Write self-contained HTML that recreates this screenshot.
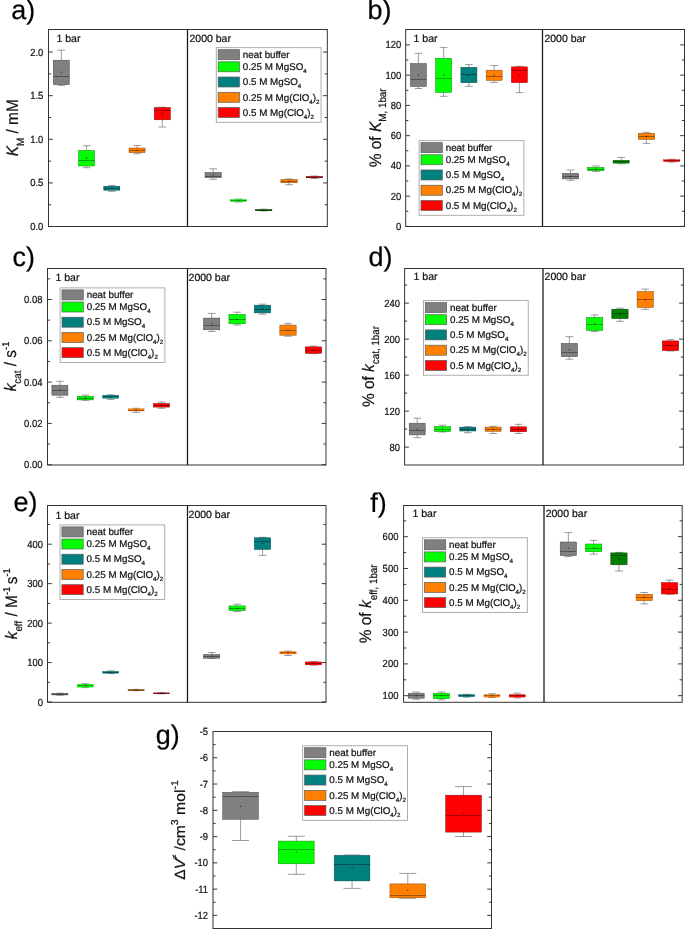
<!DOCTYPE html>
<html><head><meta charset="utf-8"><title>Figure</title>
<style>html,body{margin:0;padding:0;background:#fff}svg{display:block}text{stroke:#111;stroke-width:.22px}</style></head>
<body>
<svg width="685" height="929" viewBox="0 0 685 929" text-rendering="geometricPrecision">
<rect width="685" height="929" fill="#fff"/>
<g opacity="0.999">
<path d="M48.5 226.55h4.3M327.3 226.55h-4.3" stroke="#222" stroke-width="0.9"/>
<path d="M48.5 182.93h4.3M327.3 182.93h-4.3" stroke="#222" stroke-width="0.9"/>
<path d="M48.5 139.3h4.3M327.3 139.3h-4.3" stroke="#222" stroke-width="0.9"/>
<path d="M48.5 95.68h4.3M327.3 95.68h-4.3" stroke="#222" stroke-width="0.9"/>
<path d="M48.5 52.05h4.3M327.3 52.05h-4.3" stroke="#222" stroke-width="0.9"/>
<path d="M48.5 204.74h2.6M327.3 204.74h-2.6" stroke="#222" stroke-width="0.9"/>
<path d="M48.5 161.11h2.6M327.3 161.11h-2.6" stroke="#222" stroke-width="0.9"/>
<path d="M48.5 117.49h2.6M327.3 117.49h-2.6" stroke="#222" stroke-width="0.9"/>
<path d="M48.5 73.86h2.6M327.3 73.86h-2.6" stroke="#222" stroke-width="0.9"/>
<text transform="translate(43.3 230.1) scale(0.91 1)" text-anchor="end" font-family="Liberation Sans, Arial, sans-serif" font-size="10.4" fill="#111">0.0</text>
<text transform="translate(43.3 186.48) scale(0.91 1)" text-anchor="end" font-family="Liberation Sans, Arial, sans-serif" font-size="10.4" fill="#111">0.5</text>
<text transform="translate(43.3 142.85) scale(0.91 1)" text-anchor="end" font-family="Liberation Sans, Arial, sans-serif" font-size="10.4" fill="#111">1.0</text>
<text transform="translate(43.3 99.23) scale(0.91 1)" text-anchor="end" font-family="Liberation Sans, Arial, sans-serif" font-size="10.4" fill="#111">1.5</text>
<text transform="translate(43.3 55.6) scale(0.91 1)" text-anchor="end" font-family="Liberation Sans, Arial, sans-serif" font-size="10.4" fill="#111">2.0</text>
<path d="M61.3 50.2V60.2M61.3 84.6V85.4M57.46 50.2H65.14M57.46 85.4H65.14" stroke="#5a5a5a" stroke-width="0.6" fill="none"/>
<rect x="53.3" y="60.2" width="16" height="24.4" fill="#808080" stroke="#464646" stroke-width="0.5"/>
<path d="M53.3 76.5H69.3" stroke="#333333" stroke-width="0.6"/>
<rect x="60.8" y="71.6" width="1" height="1" fill="#111"/>
<path d="M86.55 145.8V150.5M86.55 166V167.7M82.71 145.8H90.39M82.71 167.7H90.39" stroke="#5a5a5a" stroke-width="0.6" fill="none"/>
<rect x="78.55" y="150.5" width="16" height="15.5" fill="#00ff00" stroke="#008c00" stroke-width="0.5"/>
<path d="M78.55 160.5H94.55" stroke="#006600" stroke-width="0.6"/>
<rect x="86.05" y="157.7" width="1" height="1" fill="#111"/>
<path d="M111.8 185.5V186.3M111.8 190.2V191.3M107.96 185.5H115.64M107.96 191.3H115.64" stroke="#5a5a5a" stroke-width="0.6" fill="none"/>
<rect x="103.8" y="186.3" width="16" height="3.9" fill="#008080" stroke="#004646" stroke-width="0.5"/>
<path d="M103.8 188.5H119.8" stroke="#003333" stroke-width="0.6"/>
<rect x="111.3" y="187.7" width="1" height="1" fill="#111"/>
<path d="M137.05 145.5V148M137.05 152.7V153.8M133.21 145.5H140.89M133.21 153.8H140.89" stroke="#5a5a5a" stroke-width="0.6" fill="none"/>
<rect x="129.05" y="148" width="16" height="4.7" fill="#ff8000" stroke="#8c4600" stroke-width="0.5"/>
<path d="M129.05 150.5H145.05" stroke="#663300" stroke-width="0.6"/>
<rect x="136.55" y="149.7" width="1" height="1" fill="#111"/>
<path d="M162.3 107.2V107.6M162.3 119.8V127M158.46 107.2H166.14M158.46 127H166.14" stroke="#5a5a5a" stroke-width="0.6" fill="none"/>
<rect x="154.3" y="107.6" width="16" height="12.2" fill="#ff0000" stroke="#8c0000" stroke-width="0.5"/>
<path d="M154.3 110.5H170.3" stroke="#660000" stroke-width="0.6"/>
<rect x="161.8" y="112.7" width="1" height="1" fill="#111"/>
<path d="M213.15 168.8V172.4M213.15 177.6V179.3M209.24 168.8H217.06M209.24 179.3H217.06" stroke="#5a5a5a" stroke-width="0.6" fill="none"/>
<rect x="205" y="172.4" width="16.3" height="5.2" fill="#808080" stroke="#464646" stroke-width="0.5"/>
<path d="M205 176.5H221.3" stroke="#333333" stroke-width="0.6"/>
<rect x="212.65" y="174.5" width="1" height="1" fill="#111"/>
<path d="M238.45 199V199.5M238.45 201.6V202M234.54 199H242.36M234.54 202H242.36" stroke="#5a5a5a" stroke-width="0.6" fill="none"/>
<rect x="230.3" y="199.5" width="16.3" height="2.1" fill="#00ff00" stroke="#00cc00" stroke-width="0.35"/>
<path d="M230.3 200.5H246.6" stroke="#006600" stroke-width="0.5"/>
<rect x="237.95" y="200" width="1" height="1" fill="#111"/>
<path d="M263.75 209.2V209.5M263.75 210.7V211M259.84 209.2H267.66M259.84 211H267.66" stroke="#5a5a5a" stroke-width="0.6" fill="none"/>
<rect x="255.6" y="209.5" width="16.3" height="1.2" fill="#008000" stroke="#002600" stroke-width="0.5"/>
<path d="M255.6 210.5H271.9" stroke="#003300" stroke-width="0.5"/>
<rect x="263.25" y="209.6" width="1" height="1" fill="#111"/>
<path d="M289.05 179V179.5M289.05 182.8V184.7M285.14 179H292.96M285.14 184.7H292.96" stroke="#5a5a5a" stroke-width="0.6" fill="none"/>
<rect x="280.9" y="179.5" width="16.3" height="3.3" fill="#ff8000" stroke="#8c4600" stroke-width="0.5"/>
<path d="M280.9 181.5H297.2" stroke="#663300" stroke-width="0.6"/>
<rect x="288.55" y="180.7" width="1" height="1" fill="#111"/>
<path d="M314.35 176V176.4M314.35 177.8V178.5M310.44 176H318.26M310.44 178.5H318.26" stroke="#5a5a5a" stroke-width="0.6" fill="none"/>
<rect x="306.2" y="176.4" width="16.3" height="1.4" fill="#ff0000" stroke="#4c0000" stroke-width="0.5"/>
<path d="M306.2 177.5H322.5" stroke="#660000" stroke-width="0.5"/>
<rect x="313.85" y="176.6" width="1" height="1" fill="#111"/>
<rect x="216.25" y="47.7" width="104.8" height="74.6" fill="#fff" stroke="#9a9a9a" stroke-width="0.8"/>
<rect x="218.15" y="49.7" width="21.3" height="10" fill="#808080" stroke="#5c5c5c" stroke-width="0.7"/>
<text x="242.85" y="57.9" font-family="Liberation Sans, Arial, sans-serif" font-size="9.8" fill="#111">neat buffer</text>
<rect x="218.15" y="61.8" width="21.3" height="10" fill="#00ff00" stroke="#5c5c5c" stroke-width="0.7"/>
<text x="242.85" y="70" font-family="Liberation Sans, Arial, sans-serif" font-size="9.8" fill="#111">0.25 M MgSO<tspan dy="3" font-size="6.2">4</tspan></text>
<rect x="218.15" y="77" width="21.3" height="10" fill="#008080" stroke="#5c5c5c" stroke-width="0.7"/>
<text x="242.85" y="85.2" font-family="Liberation Sans, Arial, sans-serif" font-size="9.8" fill="#111">0.5 M MgSO<tspan dy="3" font-size="6.2">4</tspan></text>
<rect x="218.15" y="92.3" width="21.3" height="10" fill="#ff8000" stroke="#5c5c5c" stroke-width="0.7"/>
<text x="242.85" y="100.5" font-family="Liberation Sans, Arial, sans-serif" font-size="9.8" fill="#111">0.25 M Mg(ClO<tspan dy="3" font-size="6.2">4</tspan><tspan dy="-3">)</tspan><tspan dy="3" font-size="6.2">2</tspan></text>
<rect x="218.15" y="107.5" width="21.3" height="10" fill="#ff0000" stroke="#5c5c5c" stroke-width="0.7"/>
<text x="242.85" y="115.7" font-family="Liberation Sans, Arial, sans-serif" font-size="9.8" fill="#111">0.5 M Mg(ClO<tspan dy="3" font-size="6.2">4</tspan><tspan dy="-3">)</tspan><tspan dy="3" font-size="6.2">2</tspan></text>
<rect x="48.5" y="29.5" width="278.8" height="197" fill="none" stroke="#333" stroke-width="1"/>
<path d="M187.5 29.5V226.5" stroke="#151515" stroke-width="1.25"/>
<text x="56.5" y="42.2" font-family="Liberation Sans, Arial, sans-serif" font-size="10.5" fill="#111">1 bar</text>
<text x="189.5" y="42.2" font-family="Liberation Sans, Arial, sans-serif" font-size="10.5" fill="#111">2000 bar</text>
<text x="11.2" y="18.7" font-family="Liberation Sans, Arial, sans-serif" font-size="27" fill="#000">a)</text>
<text transform="translate(18.2 127.8) rotate(-90) scale(0.93 1)" text-anchor="middle" font-family="Liberation Sans, Arial, sans-serif" font-size="16.6" fill="#151515"><tspan font-style="italic">K</tspan><tspan dy="5.6" font-size="10.6">M</tspan><tspan dy="-5.6" font-size="16.6">&#8203;</tspan> / mM</text>
<path d="M405.7 226.4h4.3M684.5 226.4h-4.3" stroke="#222" stroke-width="0.9"/>
<path d="M405.7 196.15h4.3M684.5 196.15h-4.3" stroke="#222" stroke-width="0.9"/>
<path d="M405.7 165.9h4.3M684.5 165.9h-4.3" stroke="#222" stroke-width="0.9"/>
<path d="M405.7 135.65h4.3M684.5 135.65h-4.3" stroke="#222" stroke-width="0.9"/>
<path d="M405.7 105.4h4.3M684.5 105.4h-4.3" stroke="#222" stroke-width="0.9"/>
<path d="M405.7 75.15h4.3M684.5 75.15h-4.3" stroke="#222" stroke-width="0.9"/>
<path d="M405.7 44.9h4.3M684.5 44.9h-4.3" stroke="#222" stroke-width="0.9"/>
<path d="M405.7 211.28h2.6M684.5 211.28h-2.6" stroke="#222" stroke-width="0.9"/>
<path d="M405.7 181.03h2.6M684.5 181.03h-2.6" stroke="#222" stroke-width="0.9"/>
<path d="M405.7 150.78h2.6M684.5 150.78h-2.6" stroke="#222" stroke-width="0.9"/>
<path d="M405.7 120.53h2.6M684.5 120.53h-2.6" stroke="#222" stroke-width="0.9"/>
<path d="M405.7 90.28h2.6M684.5 90.28h-2.6" stroke="#222" stroke-width="0.9"/>
<path d="M405.7 60.03h2.6M684.5 60.03h-2.6" stroke="#222" stroke-width="0.9"/>
<text transform="translate(401.2 229.95) scale(0.91 1)" text-anchor="end" font-family="Liberation Sans, Arial, sans-serif" font-size="10.4" fill="#111">0</text>
<text transform="translate(401.2 199.7) scale(0.91 1)" text-anchor="end" font-family="Liberation Sans, Arial, sans-serif" font-size="10.4" fill="#111">20</text>
<text transform="translate(401.2 169.45) scale(0.91 1)" text-anchor="end" font-family="Liberation Sans, Arial, sans-serif" font-size="10.4" fill="#111">40</text>
<text transform="translate(401.2 139.2) scale(0.91 1)" text-anchor="end" font-family="Liberation Sans, Arial, sans-serif" font-size="10.4" fill="#111">60</text>
<text transform="translate(401.2 108.95) scale(0.91 1)" text-anchor="end" font-family="Liberation Sans, Arial, sans-serif" font-size="10.4" fill="#111">80</text>
<text transform="translate(401.2 78.7) scale(0.91 1)" text-anchor="end" font-family="Liberation Sans, Arial, sans-serif" font-size="10.4" fill="#111">100</text>
<text transform="translate(401.2 48.45) scale(0.91 1)" text-anchor="end" font-family="Liberation Sans, Arial, sans-serif" font-size="10.4" fill="#111">120</text>
<path d="M418.4 53.3V63.5M418.4 86.5V88.5M414.56 53.3H422.24M414.56 88.5H422.24" stroke="#5a5a5a" stroke-width="0.6" fill="none"/>
<rect x="410.4" y="63.5" width="16" height="23" fill="#808080" stroke="#464646" stroke-width="0.5"/>
<path d="M410.4 79.5H426.4" stroke="#333333" stroke-width="0.6"/>
<rect x="417.9" y="74.7" width="1" height="1" fill="#111"/>
<path d="M443.65 47.4V58.3M443.65 92.4V96.3M439.81 47.4H447.49M439.81 96.3H447.49" stroke="#5a5a5a" stroke-width="0.6" fill="none"/>
<rect x="435.65" y="58.3" width="16" height="34.1" fill="#00ff00" stroke="#008c00" stroke-width="0.5"/>
<path d="M435.65 78.5H451.65" stroke="#006600" stroke-width="0.6"/>
<rect x="443.15" y="74.7" width="1" height="1" fill="#111"/>
<path d="M468.9 64.6V67.4M468.9 82.7V86.3M465.06 64.6H472.74M465.06 86.3H472.74" stroke="#5a5a5a" stroke-width="0.6" fill="none"/>
<rect x="460.9" y="67.4" width="16" height="15.3" fill="#008080" stroke="#004646" stroke-width="0.5"/>
<path d="M460.9 74.5H476.9" stroke="#003333" stroke-width="0.6"/>
<rect x="468.4" y="74.7" width="1" height="1" fill="#111"/>
<path d="M494.15 65.5V70.2M494.15 80.4V82.4M490.31 65.5H497.99M490.31 82.4H497.99" stroke="#5a5a5a" stroke-width="0.6" fill="none"/>
<rect x="486.15" y="70.2" width="16" height="10.2" fill="#ff8000" stroke="#8c4600" stroke-width="0.5"/>
<path d="M486.15 76.5H502.15" stroke="#663300" stroke-width="0.6"/>
<rect x="493.65" y="74.7" width="1" height="1" fill="#111"/>
<path d="M519.4 66.3V66.9M519.4 82.7V92.6M515.56 66.3H523.24M515.56 92.6H523.24" stroke="#5a5a5a" stroke-width="0.6" fill="none"/>
<rect x="511.4" y="66.9" width="16" height="15.8" fill="#ff0000" stroke="#8c0000" stroke-width="0.5"/>
<path d="M511.4 70.5H527.4" stroke="#660000" stroke-width="0.6"/>
<rect x="518.9" y="74.7" width="1" height="1" fill="#111"/>
<path d="M570.55 170V173.3M570.55 178.9V180.3M566.64 170H574.46M566.64 180.3H574.46" stroke="#5a5a5a" stroke-width="0.6" fill="none"/>
<rect x="562.4" y="173.3" width="16.3" height="5.6" fill="#808080" stroke="#464646" stroke-width="0.5"/>
<path d="M562.4 176.5H578.7" stroke="#333333" stroke-width="0.6"/>
<rect x="570.05" y="175.7" width="1" height="1" fill="#111"/>
<path d="M595.85 166V167.4M595.85 170.7V171.6M591.94 166H599.76M591.94 171.6H599.76" stroke="#5a5a5a" stroke-width="0.6" fill="none"/>
<rect x="587.7" y="167.4" width="16.3" height="3.3" fill="#00ff00" stroke="#008c00" stroke-width="0.5"/>
<path d="M587.7 169.5H604" stroke="#006600" stroke-width="0.6"/>
<rect x="595.35" y="168.5" width="1" height="1" fill="#111"/>
<path d="M621.15 157.4V160.2M621.15 163.2V163.8M617.24 157.4H625.06M617.24 163.8H625.06" stroke="#5a5a5a" stroke-width="0.6" fill="none"/>
<rect x="613" y="160.2" width="16.3" height="3" fill="#008000" stroke="#006600" stroke-width="0.35"/>
<path d="M613 161.5H629.3" stroke="#003300" stroke-width="0.5"/>
<rect x="620.65" y="161.1" width="1" height="1" fill="#111"/>
<path d="M646.45 132.4V133.3M646.45 139.4V143.4M642.54 132.4H650.36M642.54 143.4H650.36" stroke="#5a5a5a" stroke-width="0.6" fill="none"/>
<rect x="638.3" y="133.3" width="16.3" height="6.1" fill="#ff8000" stroke="#8c4600" stroke-width="0.5"/>
<path d="M638.3 136.5H654.6" stroke="#663300" stroke-width="0.6"/>
<rect x="645.95" y="135.9" width="1" height="1" fill="#111"/>
<path d="M671.75 159.3V159.7M671.75 161.6V162.2M667.84 159.3H675.66M667.84 162.2H675.66" stroke="#5a5a5a" stroke-width="0.6" fill="none"/>
<rect x="663.6" y="159.7" width="16.3" height="1.9" fill="#ff0000" stroke="#cc0000" stroke-width="0.35"/>
<path d="M663.6 160.5H679.9" stroke="#660000" stroke-width="0.5"/>
<rect x="671.25" y="160.1" width="1" height="1" fill="#111"/>
<rect x="419.1" y="140.65" width="104.8" height="74.6" fill="#fff" stroke="#9a9a9a" stroke-width="0.8"/>
<rect x="421" y="142.65" width="21.3" height="10" fill="#808080" stroke="#5c5c5c" stroke-width="0.7"/>
<text x="445.7" y="150.85" font-family="Liberation Sans, Arial, sans-serif" font-size="9.8" fill="#111">neat buffer</text>
<rect x="421" y="154.75" width="21.3" height="10" fill="#00ff00" stroke="#5c5c5c" stroke-width="0.7"/>
<text x="445.7" y="162.95" font-family="Liberation Sans, Arial, sans-serif" font-size="9.8" fill="#111">0.25 M MgSO<tspan dy="3" font-size="6.2">4</tspan></text>
<rect x="421" y="169.95" width="21.3" height="10" fill="#008080" stroke="#5c5c5c" stroke-width="0.7"/>
<text x="445.7" y="178.15" font-family="Liberation Sans, Arial, sans-serif" font-size="9.8" fill="#111">0.5 M MgSO<tspan dy="3" font-size="6.2">4</tspan></text>
<rect x="421" y="185.25" width="21.3" height="10" fill="#ff8000" stroke="#5c5c5c" stroke-width="0.7"/>
<text x="445.7" y="193.45" font-family="Liberation Sans, Arial, sans-serif" font-size="9.8" fill="#111">0.25 M Mg(ClO<tspan dy="3" font-size="6.2">4</tspan><tspan dy="-3">)</tspan><tspan dy="3" font-size="6.2">2</tspan></text>
<rect x="421" y="200.45" width="21.3" height="10" fill="#ff0000" stroke="#5c5c5c" stroke-width="0.7"/>
<text x="445.7" y="208.65" font-family="Liberation Sans, Arial, sans-serif" font-size="9.8" fill="#111">0.5 M Mg(ClO<tspan dy="3" font-size="6.2">4</tspan><tspan dy="-3">)</tspan><tspan dy="3" font-size="6.2">2</tspan></text>
<rect x="405.7" y="29.5" width="278.8" height="197" fill="none" stroke="#333" stroke-width="1"/>
<path d="M542.5 29.5V226.5" stroke="#151515" stroke-width="1.25"/>
<text x="413.6" y="41.6" font-family="Liberation Sans, Arial, sans-serif" font-size="10.5" fill="#111">1 bar</text>
<text x="544.4" y="41.6" font-family="Liberation Sans, Arial, sans-serif" font-size="10.5" fill="#111">2000 bar</text>
<text x="367.5" y="18.7" font-family="Liberation Sans, Arial, sans-serif" font-size="27" fill="#000">b)</text>
<text transform="translate(380.6 127.8) rotate(-90) scale(0.93 1)" text-anchor="middle" font-family="Liberation Sans, Arial, sans-serif" font-size="16.6" fill="#151515">% of <tspan font-style="italic">K</tspan><tspan dy="5.6" font-size="10.6">M, 1bar</tspan><tspan dy="-5.6" font-size="16.6">&#8203;</tspan></text>
<path d="M47.5 464.7h4.3M326 464.7h-4.3" stroke="#222" stroke-width="0.9"/>
<path d="M47.5 423.4h4.3M326 423.4h-4.3" stroke="#222" stroke-width="0.9"/>
<path d="M47.5 382.1h4.3M326 382.1h-4.3" stroke="#222" stroke-width="0.9"/>
<path d="M47.5 340.8h4.3M326 340.8h-4.3" stroke="#222" stroke-width="0.9"/>
<path d="M47.5 299.5h4.3M326 299.5h-4.3" stroke="#222" stroke-width="0.9"/>
<path d="M47.5 444.05h2.6M326 444.05h-2.6" stroke="#222" stroke-width="0.9"/>
<path d="M47.5 402.75h2.6M326 402.75h-2.6" stroke="#222" stroke-width="0.9"/>
<path d="M47.5 361.45h2.6M326 361.45h-2.6" stroke="#222" stroke-width="0.9"/>
<path d="M47.5 320.15h2.6M326 320.15h-2.6" stroke="#222" stroke-width="0.9"/>
<path d="M47.5 278.85h2.6M326 278.85h-2.6" stroke="#222" stroke-width="0.9"/>
<text transform="translate(42.5 468.25) scale(0.91 1)" text-anchor="end" font-family="Liberation Sans, Arial, sans-serif" font-size="10.4" fill="#111">0.00</text>
<text transform="translate(42.5 426.95) scale(0.91 1)" text-anchor="end" font-family="Liberation Sans, Arial, sans-serif" font-size="10.4" fill="#111">0.02</text>
<text transform="translate(42.5 385.65) scale(0.91 1)" text-anchor="end" font-family="Liberation Sans, Arial, sans-serif" font-size="10.4" fill="#111">0.04</text>
<text transform="translate(42.5 344.35) scale(0.91 1)" text-anchor="end" font-family="Liberation Sans, Arial, sans-serif" font-size="10.4" fill="#111">0.06</text>
<text transform="translate(42.5 303.05) scale(0.91 1)" text-anchor="end" font-family="Liberation Sans, Arial, sans-serif" font-size="10.4" fill="#111">0.08</text>
<path d="M59.9 381.3V385.2M59.9 395.2V397.4M56.06 381.3H63.74M56.06 397.4H63.74" stroke="#5a5a5a" stroke-width="0.6" fill="none"/>
<rect x="51.9" y="385.2" width="16" height="10" fill="#808080" stroke="#464646" stroke-width="0.5"/>
<path d="M51.9 390.5H67.9" stroke="#333333" stroke-width="0.6"/>
<rect x="59.4" y="389.5" width="1" height="1" fill="#111"/>
<path d="M85.3 395.2V396.3M85.3 399.9V400.3M81.46 395.2H89.14M81.46 400.3H89.14" stroke="#5a5a5a" stroke-width="0.6" fill="none"/>
<rect x="77.3" y="396.3" width="16" height="3.6" fill="#00ff00" stroke="#008c00" stroke-width="0.5"/>
<path d="M77.3 398.5H93.3" stroke="#006600" stroke-width="0.6"/>
<rect x="84.8" y="397.6" width="1" height="1" fill="#111"/>
<path d="M110.7 394.8V395.2M110.7 398.3V399.4M106.86 394.8H114.54M106.86 399.4H114.54" stroke="#5a5a5a" stroke-width="0.6" fill="none"/>
<rect x="102.7" y="395.2" width="16" height="3.1" fill="#008080" stroke="#006666" stroke-width="0.35"/>
<path d="M102.7 396.5H118.7" stroke="#003333" stroke-width="0.5"/>
<rect x="110.2" y="396.3" width="1" height="1" fill="#111"/>
<path d="M136.1 408.3V408.8M136.1 411V412.4M132.26 408.3H139.94M132.26 412.4H139.94" stroke="#5a5a5a" stroke-width="0.6" fill="none"/>
<rect x="128.1" y="408.8" width="16" height="2.2" fill="#ff8000" stroke="#cc6600" stroke-width="0.35"/>
<path d="M128.1 410.5H144.1" stroke="#663300" stroke-width="0.5"/>
<rect x="135.6" y="409.4" width="1" height="1" fill="#111"/>
<path d="M161.5 402.1V403.5M161.5 407.1V408.3M157.66 402.1H165.34M157.66 408.3H165.34" stroke="#5a5a5a" stroke-width="0.6" fill="none"/>
<rect x="153.5" y="403.5" width="16" height="3.6" fill="#ff0000" stroke="#8c0000" stroke-width="0.5"/>
<path d="M153.5 405.5H169.5" stroke="#660000" stroke-width="0.6"/>
<rect x="161" y="404.8" width="1" height="1" fill="#111"/>
<path d="M211.65 313.4V318.1M211.65 329.8V331.5M207.74 313.4H215.56M207.74 331.5H215.56" stroke="#5a5a5a" stroke-width="0.6" fill="none"/>
<rect x="203.5" y="318.1" width="16.3" height="11.7" fill="#808080" stroke="#464646" stroke-width="0.5"/>
<path d="M203.5 325.5H219.8" stroke="#333333" stroke-width="0.6"/>
<rect x="211.15" y="323.3" width="1" height="1" fill="#111"/>
<path d="M237.1 312.2V314.4M237.1 323.8V325M233.19 312.2H241.01M233.19 325H241.01" stroke="#5a5a5a" stroke-width="0.6" fill="none"/>
<rect x="228.95" y="314.4" width="16.3" height="9.4" fill="#00ff00" stroke="#008c00" stroke-width="0.5"/>
<path d="M228.95 319.5H245.25" stroke="#006600" stroke-width="0.6"/>
<rect x="236.6" y="318.9" width="1" height="1" fill="#111"/>
<path d="M262.55 304.2V305.2M262.55 312.9V314.2M258.64 304.2H266.46M258.64 314.2H266.46" stroke="#5a5a5a" stroke-width="0.6" fill="none"/>
<rect x="254.4" y="305.2" width="16.3" height="7.7" fill="#008080" stroke="#004646" stroke-width="0.5"/>
<path d="M254.4 309.5H270.7" stroke="#003333" stroke-width="0.6"/>
<rect x="262.05" y="308.5" width="1" height="1" fill="#111"/>
<path d="M288 323.6V325.1M288 335.2V336.2M284.09 323.6H291.91M284.09 336.2H291.91" stroke="#5a5a5a" stroke-width="0.6" fill="none"/>
<rect x="279.85" y="325.1" width="16.3" height="10.1" fill="#ff8000" stroke="#8c4600" stroke-width="0.5"/>
<path d="M279.85 330.5H296.15" stroke="#663300" stroke-width="0.6"/>
<rect x="287.5" y="329.8" width="1" height="1" fill="#111"/>
<path d="M313.45 346.1V346.9M313.45 353.3V353.7M309.54 346.1H317.36M309.54 353.7H317.36" stroke="#5a5a5a" stroke-width="0.6" fill="none"/>
<rect x="305.3" y="346.9" width="16.3" height="6.4" fill="#ff0000" stroke="#8c0000" stroke-width="0.5"/>
<path d="M305.3 350.5H321.6" stroke="#660000" stroke-width="0.6"/>
<rect x="312.95" y="349.5" width="1" height="1" fill="#111"/>
<rect x="60.1" y="287.9" width="104.8" height="74.6" fill="#fff" stroke="#9a9a9a" stroke-width="0.8"/>
<rect x="62" y="289.9" width="21.3" height="10" fill="#808080" stroke="#5c5c5c" stroke-width="0.7"/>
<text x="86.7" y="298.1" font-family="Liberation Sans, Arial, sans-serif" font-size="9.8" fill="#111">neat buffer</text>
<rect x="62" y="302" width="21.3" height="10" fill="#00ff00" stroke="#5c5c5c" stroke-width="0.7"/>
<text x="86.7" y="310.2" font-family="Liberation Sans, Arial, sans-serif" font-size="9.8" fill="#111">0.25 M MgSO<tspan dy="3" font-size="6.2">4</tspan></text>
<rect x="62" y="317.2" width="21.3" height="10" fill="#008080" stroke="#5c5c5c" stroke-width="0.7"/>
<text x="86.7" y="325.4" font-family="Liberation Sans, Arial, sans-serif" font-size="9.8" fill="#111">0.5 M MgSO<tspan dy="3" font-size="6.2">4</tspan></text>
<rect x="62" y="332.5" width="21.3" height="10" fill="#ff8000" stroke="#5c5c5c" stroke-width="0.7"/>
<text x="86.7" y="340.7" font-family="Liberation Sans, Arial, sans-serif" font-size="9.8" fill="#111">0.25 M Mg(ClO<tspan dy="3" font-size="6.2">4</tspan><tspan dy="-3">)</tspan><tspan dy="3" font-size="6.2">2</tspan></text>
<rect x="62" y="347.7" width="21.3" height="10" fill="#ff0000" stroke="#5c5c5c" stroke-width="0.7"/>
<text x="86.7" y="355.9" font-family="Liberation Sans, Arial, sans-serif" font-size="9.8" fill="#111">0.5 M Mg(ClO<tspan dy="3" font-size="6.2">4</tspan><tspan dy="-3">)</tspan><tspan dy="3" font-size="6.2">2</tspan></text>
<rect x="47.5" y="268.5" width="278.5" height="196.5" fill="none" stroke="#333" stroke-width="1"/>
<path d="M187.5 268.5V465" stroke="#151515" stroke-width="1.25"/>
<text x="55.5" y="281.2" font-family="Liberation Sans, Arial, sans-serif" font-size="10.5" fill="#111">1 bar</text>
<text x="188.6" y="281" font-family="Liberation Sans, Arial, sans-serif" font-size="10.5" fill="#111">2000 bar</text>
<text x="12.5" y="266.3" font-family="Liberation Sans, Arial, sans-serif" font-size="27" fill="#000">c)</text>
<text transform="translate(15.7 366.5) rotate(-90) scale(0.93 1)" text-anchor="middle" font-family="Liberation Sans, Arial, sans-serif" font-size="16.6" fill="#151515"><tspan font-style="italic">k</tspan><tspan dy="5.6" font-size="10.6">cat</tspan><tspan dy="-5.6" font-size="16.6">&#8203;</tspan> / s<tspan dy="-7.1" font-size="10">-1</tspan><tspan dy="7.1" font-size="16.6">&#8203;</tspan></text>
<path d="M404.6 447.1h4.3M683.4 447.1h-4.3" stroke="#222" stroke-width="0.9"/>
<path d="M404.6 411.1h4.3M683.4 411.1h-4.3" stroke="#222" stroke-width="0.9"/>
<path d="M404.6 375.1h4.3M683.4 375.1h-4.3" stroke="#222" stroke-width="0.9"/>
<path d="M404.6 339.1h4.3M683.4 339.1h-4.3" stroke="#222" stroke-width="0.9"/>
<path d="M404.6 303.1h4.3M683.4 303.1h-4.3" stroke="#222" stroke-width="0.9"/>
<path d="M404.6 429.1h2.6M683.4 429.1h-2.6" stroke="#222" stroke-width="0.9"/>
<path d="M404.6 393.1h2.6M683.4 393.1h-2.6" stroke="#222" stroke-width="0.9"/>
<path d="M404.6 357.1h2.6M683.4 357.1h-2.6" stroke="#222" stroke-width="0.9"/>
<path d="M404.6 321.1h2.6M683.4 321.1h-2.6" stroke="#222" stroke-width="0.9"/>
<path d="M404.6 285.1h2.6M683.4 285.1h-2.6" stroke="#222" stroke-width="0.9"/>
<text transform="translate(400.1 450.65) scale(0.91 1)" text-anchor="end" font-family="Liberation Sans, Arial, sans-serif" font-size="10.4" fill="#111">80</text>
<text transform="translate(400.1 414.65) scale(0.91 1)" text-anchor="end" font-family="Liberation Sans, Arial, sans-serif" font-size="10.4" fill="#111">120</text>
<text transform="translate(400.1 378.65) scale(0.91 1)" text-anchor="end" font-family="Liberation Sans, Arial, sans-serif" font-size="10.4" fill="#111">160</text>
<text transform="translate(400.1 342.65) scale(0.91 1)" text-anchor="end" font-family="Liberation Sans, Arial, sans-serif" font-size="10.4" fill="#111">200</text>
<text transform="translate(400.1 306.65) scale(0.91 1)" text-anchor="end" font-family="Liberation Sans, Arial, sans-serif" font-size="10.4" fill="#111">240</text>
<path d="M417.2 418.2V423.2M417.2 434.9V437.7M413.36 418.2H421.04M413.36 437.7H421.04" stroke="#5a5a5a" stroke-width="0.6" fill="none"/>
<rect x="409.2" y="423.2" width="16" height="11.7" fill="#808080" stroke="#464646" stroke-width="0.5"/>
<path d="M409.2 430.5H425.2" stroke="#333333" stroke-width="0.6"/>
<rect x="416.7" y="428.7" width="1" height="1" fill="#111"/>
<path d="M442.5 425.2V426.6M442.5 431.6V432M438.66 425.2H446.34M438.66 432H446.34" stroke="#5a5a5a" stroke-width="0.6" fill="none"/>
<rect x="434.5" y="426.6" width="16" height="5" fill="#00ff00" stroke="#008c00" stroke-width="0.5"/>
<path d="M434.5 429.5H450.5" stroke="#006600" stroke-width="0.6"/>
<rect x="442" y="428.7" width="1" height="1" fill="#111"/>
<path d="M467.8 426.7V427.1M467.8 431V432.7M463.96 426.7H471.64M463.96 432.7H471.64" stroke="#5a5a5a" stroke-width="0.6" fill="none"/>
<rect x="459.8" y="427.1" width="16" height="3.9" fill="#008080" stroke="#004646" stroke-width="0.5"/>
<path d="M459.8 429.5H475.8" stroke="#003333" stroke-width="0.6"/>
<rect x="467.3" y="428.7" width="1" height="1" fill="#111"/>
<path d="M493.1 426.3V427.1M493.1 431.3V433.5M489.26 426.3H496.94M489.26 433.5H496.94" stroke="#5a5a5a" stroke-width="0.6" fill="none"/>
<rect x="485.1" y="427.1" width="16" height="4.2" fill="#ff8000" stroke="#8c4600" stroke-width="0.5"/>
<path d="M485.1 429.5H501.1" stroke="#663300" stroke-width="0.6"/>
<rect x="492.6" y="428.7" width="1" height="1" fill="#111"/>
<path d="M518.4 424.3V426.8M518.4 431.8V433.5M514.56 424.3H522.24M514.56 433.5H522.24" stroke="#5a5a5a" stroke-width="0.6" fill="none"/>
<rect x="510.4" y="426.8" width="16" height="5" fill="#ff0000" stroke="#8c0000" stroke-width="0.5"/>
<path d="M510.4 429.5H526.4" stroke="#660000" stroke-width="0.6"/>
<rect x="517.9" y="428.7" width="1" height="1" fill="#111"/>
<path d="M569.35 336.7V343.4M569.35 356.7V359.2M565.44 336.7H573.26M565.44 359.2H573.26" stroke="#5a5a5a" stroke-width="0.6" fill="none"/>
<rect x="561.2" y="343.4" width="16.3" height="13.3" fill="#808080" stroke="#464646" stroke-width="0.5"/>
<path d="M561.2 352.5H577.5" stroke="#333333" stroke-width="0.6"/>
<rect x="568.85" y="349" width="1" height="1" fill="#111"/>
<path d="M594.65 314.9V317.4M594.65 330.5V331.5M590.74 314.9H598.56M590.74 331.5H598.56" stroke="#5a5a5a" stroke-width="0.6" fill="none"/>
<rect x="586.5" y="317.4" width="16.3" height="13.1" fill="#00ff00" stroke="#008c00" stroke-width="0.5"/>
<path d="M586.5 324.5H602.8" stroke="#006600" stroke-width="0.6"/>
<rect x="594.15" y="323.5" width="1" height="1" fill="#111"/>
<path d="M619.95 308.2V309.2M619.95 318.6V321.3M616.04 308.2H623.86M616.04 321.3H623.86" stroke="#5a5a5a" stroke-width="0.6" fill="none"/>
<rect x="611.8" y="309.2" width="16.3" height="9.4" fill="#008000" stroke="#004600" stroke-width="0.5"/>
<path d="M611.8 313.5H628.1" stroke="#003300" stroke-width="0.6"/>
<rect x="619.45" y="313.7" width="1" height="1" fill="#111"/>
<path d="M645.25 289.1V291.6M645.25 307.5V309.4M641.34 289.1H649.16M641.34 309.4H649.16" stroke="#5a5a5a" stroke-width="0.6" fill="none"/>
<rect x="637.1" y="291.6" width="16.3" height="15.9" fill="#ff8000" stroke="#8c4600" stroke-width="0.5"/>
<path d="M637.1 299.5H653.4" stroke="#663300" stroke-width="0.6"/>
<rect x="644.75" y="299" width="1" height="1" fill="#111"/>
<path d="M670.55 339.7V340.9M670.55 350.6V351M666.64 339.7H674.46M666.64 351H674.46" stroke="#5a5a5a" stroke-width="0.6" fill="none"/>
<rect x="662.4" y="340.9" width="16.3" height="9.7" fill="#ff0000" stroke="#8c0000" stroke-width="0.5"/>
<path d="M662.4 345.5H678.7" stroke="#660000" stroke-width="0.6"/>
<rect x="670.05" y="345.1" width="1" height="1" fill="#111"/>
<rect x="423.4" y="300.6" width="104.8" height="74.6" fill="#fff" stroke="#9a9a9a" stroke-width="0.8"/>
<rect x="425.3" y="302.6" width="21.3" height="10" fill="#808080" stroke="#5c5c5c" stroke-width="0.7"/>
<text x="450" y="310.8" font-family="Liberation Sans, Arial, sans-serif" font-size="9.8" fill="#111">neat buffer</text>
<rect x="425.3" y="314.7" width="21.3" height="10" fill="#00ff00" stroke="#5c5c5c" stroke-width="0.7"/>
<text x="450" y="322.9" font-family="Liberation Sans, Arial, sans-serif" font-size="9.8" fill="#111">0.25 M MgSO<tspan dy="3" font-size="6.2">4</tspan></text>
<rect x="425.3" y="329.9" width="21.3" height="10" fill="#008080" stroke="#5c5c5c" stroke-width="0.7"/>
<text x="450" y="338.1" font-family="Liberation Sans, Arial, sans-serif" font-size="9.8" fill="#111">0.5 M MgSO<tspan dy="3" font-size="6.2">4</tspan></text>
<rect x="425.3" y="345.2" width="21.3" height="10" fill="#ff8000" stroke="#5c5c5c" stroke-width="0.7"/>
<text x="450" y="353.4" font-family="Liberation Sans, Arial, sans-serif" font-size="9.8" fill="#111">0.25 M Mg(ClO<tspan dy="3" font-size="6.2">4</tspan><tspan dy="-3">)</tspan><tspan dy="3" font-size="6.2">2</tspan></text>
<rect x="425.3" y="360.4" width="21.3" height="10" fill="#ff0000" stroke="#5c5c5c" stroke-width="0.7"/>
<text x="450" y="368.6" font-family="Liberation Sans, Arial, sans-serif" font-size="9.8" fill="#111">0.5 M Mg(ClO<tspan dy="3" font-size="6.2">4</tspan><tspan dy="-3">)</tspan><tspan dy="3" font-size="6.2">2</tspan></text>
<rect x="404.6" y="268.5" width="278.8" height="196.5" fill="none" stroke="#333" stroke-width="1"/>
<path d="M543 268.5V465" stroke="#151515" stroke-width="1.25"/>
<text x="413.6" y="279.7" font-family="Liberation Sans, Arial, sans-serif" font-size="10.5" fill="#111">1 bar</text>
<text x="544.6" y="279.8" font-family="Liberation Sans, Arial, sans-serif" font-size="10.5" fill="#111">2000 bar</text>
<text x="368.4" y="266.3" font-family="Liberation Sans, Arial, sans-serif" font-size="27" fill="#000">d)</text>
<text transform="translate(373.6 366.5) rotate(-90) scale(0.93 1)" text-anchor="middle" font-family="Liberation Sans, Arial, sans-serif" font-size="16.6" fill="#151515">% of <tspan font-style="italic">k</tspan><tspan dy="5.6" font-size="10.6">cat, 1bar</tspan><tspan dy="-5.6" font-size="16.6">&#8203;</tspan></text>
<path d="M47.5 702h4.3M326 702h-4.3" stroke="#222" stroke-width="0.9"/>
<path d="M47.5 662.55h4.3M326 662.55h-4.3" stroke="#222" stroke-width="0.9"/>
<path d="M47.5 623.1h4.3M326 623.1h-4.3" stroke="#222" stroke-width="0.9"/>
<path d="M47.5 583.65h4.3M326 583.65h-4.3" stroke="#222" stroke-width="0.9"/>
<path d="M47.5 544.2h4.3M326 544.2h-4.3" stroke="#222" stroke-width="0.9"/>
<path d="M47.5 682.27h2.6M326 682.27h-2.6" stroke="#222" stroke-width="0.9"/>
<path d="M47.5 642.83h2.6M326 642.83h-2.6" stroke="#222" stroke-width="0.9"/>
<path d="M47.5 603.38h2.6M326 603.38h-2.6" stroke="#222" stroke-width="0.9"/>
<path d="M47.5 563.92h2.6M326 563.92h-2.6" stroke="#222" stroke-width="0.9"/>
<path d="M47.5 524.48h2.6M326 524.48h-2.6" stroke="#222" stroke-width="0.9"/>
<text transform="translate(43 705.55) scale(0.91 1)" text-anchor="end" font-family="Liberation Sans, Arial, sans-serif" font-size="10.4" fill="#111">0</text>
<text transform="translate(43 666.1) scale(0.91 1)" text-anchor="end" font-family="Liberation Sans, Arial, sans-serif" font-size="10.4" fill="#111">100</text>
<text transform="translate(43 626.65) scale(0.91 1)" text-anchor="end" font-family="Liberation Sans, Arial, sans-serif" font-size="10.4" fill="#111">200</text>
<text transform="translate(43 587.2) scale(0.91 1)" text-anchor="end" font-family="Liberation Sans, Arial, sans-serif" font-size="10.4" fill="#111">300</text>
<text transform="translate(43 547.75) scale(0.91 1)" text-anchor="end" font-family="Liberation Sans, Arial, sans-serif" font-size="10.4" fill="#111">400</text>
<path d="M59.9 693.2V693.5M59.9 694.9V695.2M56.06 693.2H63.74M56.06 695.2H63.74" stroke="#5a5a5a" stroke-width="0.6" fill="none"/>
<rect x="51.9" y="693.5" width="16" height="1.4" fill="#808080" stroke="#262626" stroke-width="0.5"/>
<path d="M51.9 694.5H67.9" stroke="#333333" stroke-width="0.5"/>
<rect x="59.4" y="693.7" width="1" height="1" fill="#111"/>
<path d="M85.3 683.6V684.3M85.3 687.1V687.6M81.46 683.6H89.14M81.46 687.6H89.14" stroke="#5a5a5a" stroke-width="0.6" fill="none"/>
<rect x="77.3" y="684.3" width="16" height="2.8" fill="#00ff00" stroke="#00cc00" stroke-width="0.35"/>
<path d="M77.3 685.5H93.3" stroke="#006600" stroke-width="0.5"/>
<rect x="84.8" y="685.2" width="1" height="1" fill="#111"/>
<path d="M110.7 670.9V671.3M110.7 673.2V673.6M106.86 670.9H114.54M106.86 673.6H114.54" stroke="#5a5a5a" stroke-width="0.6" fill="none"/>
<rect x="102.7" y="671.3" width="16" height="1.9" fill="#008080" stroke="#006666" stroke-width="0.35"/>
<path d="M102.7 672.5H118.7" stroke="#003333" stroke-width="0.5"/>
<rect x="110.2" y="671.7" width="1" height="1" fill="#111"/>
<path d="M136.1 689.4V689.6M136.1 690.4V690.7M132.26 689.4H139.94M132.26 690.7H139.94" stroke="#5a5a5a" stroke-width="0.6" fill="none"/>
<rect x="128.1" y="689.6" width="16" height="0.8" fill="#ff8000" stroke="#4c2600" stroke-width="0.5"/>
<path d="M128.1 690.5H144.1" stroke="#663300" stroke-width="0.5"/>
<rect x="135.6" y="689.5" width="1" height="1" fill="#111"/>
<path d="M161.5 692.7V692.9M161.5 693.7V693.9M157.66 692.7H165.34M157.66 693.9H165.34" stroke="#5a5a5a" stroke-width="0.6" fill="none"/>
<rect x="153.5" y="692.9" width="16" height="0.8" fill="#ff0000" stroke="#4c0000" stroke-width="0.5"/>
<path d="M153.5 693.5H169.5" stroke="#660000" stroke-width="0.5"/>
<rect x="161" y="692.8" width="1" height="1" fill="#111"/>
<path d="M211.65 652.5V654.5M211.65 658.2V658.6M207.74 652.5H215.56M207.74 658.6H215.56" stroke="#5a5a5a" stroke-width="0.6" fill="none"/>
<rect x="203.5" y="654.5" width="16.3" height="3.7" fill="#808080" stroke="#464646" stroke-width="0.5"/>
<path d="M203.5 656.5H219.8" stroke="#333333" stroke-width="0.6"/>
<rect x="211.15" y="655.7" width="1" height="1" fill="#111"/>
<path d="M237.1 604.2V605.9M237.1 610.6V611.6M233.19 604.2H241.01M233.19 611.6H241.01" stroke="#5a5a5a" stroke-width="0.6" fill="none"/>
<rect x="228.95" y="605.9" width="16.3" height="4.7" fill="#00ff00" stroke="#008c00" stroke-width="0.5"/>
<path d="M228.95 608.5H245.25" stroke="#006600" stroke-width="0.6"/>
<rect x="236.6" y="607.9" width="1" height="1" fill="#111"/>
<path d="M262.55 537.3V537.8M262.55 549.4V555.4M258.64 537.3H266.46M258.64 555.4H266.46" stroke="#5a5a5a" stroke-width="0.6" fill="none"/>
<rect x="254.4" y="537.8" width="16.3" height="11.6" fill="#008080" stroke="#004646" stroke-width="0.5"/>
<path d="M254.4 541.5H270.7" stroke="#003333" stroke-width="0.6"/>
<rect x="262.05" y="543" width="1" height="1" fill="#111"/>
<path d="M288 651.1V651.5M288 654V655.5M284.09 651.1H291.91M284.09 655.5H291.91" stroke="#5a5a5a" stroke-width="0.6" fill="none"/>
<rect x="279.85" y="651.5" width="16.3" height="2.5" fill="#ff8000" stroke="#cc6600" stroke-width="0.35"/>
<path d="M279.85 652.5H296.15" stroke="#663300" stroke-width="0.5"/>
<rect x="287.5" y="652.3" width="1" height="1" fill="#111"/>
<path d="M313.45 661.5V661.9M313.45 664.9V665.2M309.54 661.5H317.36M309.54 665.2H317.36" stroke="#5a5a5a" stroke-width="0.6" fill="none"/>
<rect x="305.3" y="661.9" width="16.3" height="3" fill="#ff0000" stroke="#cc0000" stroke-width="0.35"/>
<path d="M305.3 663.5H321.6" stroke="#660000" stroke-width="0.5"/>
<rect x="312.95" y="662.9" width="1" height="1" fill="#111"/>
<rect x="60" y="524.9" width="104.8" height="74.6" fill="#fff" stroke="#9a9a9a" stroke-width="0.8"/>
<rect x="61.9" y="526.9" width="21.3" height="10" fill="#808080" stroke="#5c5c5c" stroke-width="0.7"/>
<text x="86.6" y="535.1" font-family="Liberation Sans, Arial, sans-serif" font-size="9.8" fill="#111">neat buffer</text>
<rect x="61.9" y="539" width="21.3" height="10" fill="#00ff00" stroke="#5c5c5c" stroke-width="0.7"/>
<text x="86.6" y="547.2" font-family="Liberation Sans, Arial, sans-serif" font-size="9.8" fill="#111">0.25 M MgSO<tspan dy="3" font-size="6.2">4</tspan></text>
<rect x="61.9" y="554.2" width="21.3" height="10" fill="#008080" stroke="#5c5c5c" stroke-width="0.7"/>
<text x="86.6" y="562.4" font-family="Liberation Sans, Arial, sans-serif" font-size="9.8" fill="#111">0.5 M MgSO<tspan dy="3" font-size="6.2">4</tspan></text>
<rect x="61.9" y="569.5" width="21.3" height="10" fill="#ff8000" stroke="#5c5c5c" stroke-width="0.7"/>
<text x="86.6" y="577.7" font-family="Liberation Sans, Arial, sans-serif" font-size="9.8" fill="#111">0.25 M Mg(ClO<tspan dy="3" font-size="6.2">4</tspan><tspan dy="-3">)</tspan><tspan dy="3" font-size="6.2">2</tspan></text>
<rect x="61.9" y="584.7" width="21.3" height="10" fill="#ff0000" stroke="#5c5c5c" stroke-width="0.7"/>
<text x="86.6" y="592.9" font-family="Liberation Sans, Arial, sans-serif" font-size="9.8" fill="#111">0.5 M Mg(ClO<tspan dy="3" font-size="6.2">4</tspan><tspan dy="-3">)</tspan><tspan dy="3" font-size="6.2">2</tspan></text>
<rect x="47.5" y="505.5" width="278.5" height="196.8" fill="none" stroke="#333" stroke-width="1"/>
<path d="M187.5 505.5V702.3" stroke="#151515" stroke-width="1.25"/>
<text x="55.5" y="518.5" font-family="Liberation Sans, Arial, sans-serif" font-size="10.5" fill="#111">1 bar</text>
<text x="188.6" y="518.3" font-family="Liberation Sans, Arial, sans-serif" font-size="10.5" fill="#111">2000 bar</text>
<text x="13.6" y="511.4" font-family="Liberation Sans, Arial, sans-serif" font-size="27" fill="#000">e)</text>
<text transform="translate(16.8 603.8) rotate(-90) scale(0.93 1)" text-anchor="middle" font-family="Liberation Sans, Arial, sans-serif" font-size="16.6" fill="#151515"><tspan font-style="italic">k</tspan><tspan dy="5.6" font-size="10.6">eff</tspan><tspan dy="-5.6" font-size="16.6">&#8203;</tspan> / M<tspan dy="-7.1" font-size="10">-1 </tspan><tspan dy="7.1" font-size="16.6">&#8203;</tspan>s<tspan dy="-7.1" font-size="10">-1</tspan><tspan dy="7.1" font-size="16.6">&#8203;</tspan></text>
<path d="M403.6 695.7h4.3M682.2 695.7h-4.3" stroke="#222" stroke-width="0.9"/>
<path d="M403.6 663.9h4.3M682.2 663.9h-4.3" stroke="#222" stroke-width="0.9"/>
<path d="M403.6 632.1h4.3M682.2 632.1h-4.3" stroke="#222" stroke-width="0.9"/>
<path d="M403.6 600.3h4.3M682.2 600.3h-4.3" stroke="#222" stroke-width="0.9"/>
<path d="M403.6 568.5h4.3M682.2 568.5h-4.3" stroke="#222" stroke-width="0.9"/>
<path d="M403.6 536.7h4.3M682.2 536.7h-4.3" stroke="#222" stroke-width="0.9"/>
<path d="M403.6 679.8h2.6M682.2 679.8h-2.6" stroke="#222" stroke-width="0.9"/>
<path d="M403.6 648h2.6M682.2 648h-2.6" stroke="#222" stroke-width="0.9"/>
<path d="M403.6 616.2h2.6M682.2 616.2h-2.6" stroke="#222" stroke-width="0.9"/>
<path d="M403.6 584.4h2.6M682.2 584.4h-2.6" stroke="#222" stroke-width="0.9"/>
<path d="M403.6 552.6h2.6M682.2 552.6h-2.6" stroke="#222" stroke-width="0.9"/>
<path d="M403.6 520.8h2.6M682.2 520.8h-2.6" stroke="#222" stroke-width="0.9"/>
<text transform="translate(398.4 699.25) scale(0.91 1)" text-anchor="end" font-family="Liberation Sans, Arial, sans-serif" font-size="10.4" fill="#111">100</text>
<text transform="translate(398.4 667.45) scale(0.91 1)" text-anchor="end" font-family="Liberation Sans, Arial, sans-serif" font-size="10.4" fill="#111">200</text>
<text transform="translate(398.4 635.65) scale(0.91 1)" text-anchor="end" font-family="Liberation Sans, Arial, sans-serif" font-size="10.4" fill="#111">300</text>
<text transform="translate(398.4 603.85) scale(0.91 1)" text-anchor="end" font-family="Liberation Sans, Arial, sans-serif" font-size="10.4" fill="#111">400</text>
<text transform="translate(398.4 572.05) scale(0.91 1)" text-anchor="end" font-family="Liberation Sans, Arial, sans-serif" font-size="10.4" fill="#111">500</text>
<text transform="translate(398.4 540.25) scale(0.91 1)" text-anchor="end" font-family="Liberation Sans, Arial, sans-serif" font-size="10.4" fill="#111">600</text>
<path d="M416.2 692V693.2M416.2 698.2V699.3M412.36 692H420.04M412.36 699.3H420.04" stroke="#5a5a5a" stroke-width="0.6" fill="none"/>
<rect x="408.2" y="693.2" width="16" height="5" fill="#808080" stroke="#464646" stroke-width="0.5"/>
<path d="M408.2 695.5H424.2" stroke="#333333" stroke-width="0.6"/>
<rect x="415.7" y="695.2" width="1" height="1" fill="#111"/>
<path d="M441.45 692V693.2M441.45 698.7V699.8M437.61 692H445.29M437.61 699.8H445.29" stroke="#5a5a5a" stroke-width="0.6" fill="none"/>
<rect x="433.45" y="693.2" width="16" height="5.5" fill="#00ff00" stroke="#008c00" stroke-width="0.5"/>
<path d="M433.45 695.5H449.45" stroke="#006600" stroke-width="0.6"/>
<rect x="440.95" y="695.2" width="1" height="1" fill="#111"/>
<path d="M466.7 694.2V694.6M466.7 696.8V697.2M462.86 694.2H470.54M462.86 697.2H470.54" stroke="#5a5a5a" stroke-width="0.6" fill="none"/>
<rect x="458.7" y="694.6" width="16" height="2.2" fill="#008080" stroke="#006666" stroke-width="0.35"/>
<path d="M458.7 695.5H474.7" stroke="#003333" stroke-width="0.5"/>
<rect x="466.2" y="695.2" width="1" height="1" fill="#111"/>
<path d="M491.95 693.7V694.6M491.95 697.1V697.5M488.11 693.7H495.79M488.11 697.5H495.79" stroke="#5a5a5a" stroke-width="0.6" fill="none"/>
<rect x="483.95" y="694.6" width="16" height="2.5" fill="#ff8000" stroke="#cc6600" stroke-width="0.35"/>
<path d="M483.95 695.5H499.95" stroke="#663300" stroke-width="0.5"/>
<rect x="491.45" y="695.2" width="1" height="1" fill="#111"/>
<path d="M517.2 693.2V694.6M517.2 697.1V697.9M513.36 693.2H521.04M513.36 697.9H521.04" stroke="#5a5a5a" stroke-width="0.6" fill="none"/>
<rect x="509.2" y="694.6" width="16" height="2.5" fill="#ff0000" stroke="#cc0000" stroke-width="0.35"/>
<path d="M509.2 695.5H525.2" stroke="#660000" stroke-width="0.5"/>
<rect x="516.7" y="695.2" width="1" height="1" fill="#111"/>
<path d="M568.35 532.6V542M568.35 555.6V556.6M564.44 532.6H572.26M564.44 556.6H572.26" stroke="#5a5a5a" stroke-width="0.6" fill="none"/>
<rect x="560.2" y="542" width="16.3" height="13.6" fill="#808080" stroke="#464646" stroke-width="0.5"/>
<path d="M560.2 551.5H576.5" stroke="#333333" stroke-width="0.6"/>
<rect x="567.85" y="547.8" width="1" height="1" fill="#111"/>
<path d="M593.65 540.3V544M593.65 551.7V554.1M589.74 540.3H597.56M589.74 554.1H597.56" stroke="#5a5a5a" stroke-width="0.6" fill="none"/>
<rect x="585.5" y="544" width="16.3" height="7.7" fill="#00ff00" stroke="#008c00" stroke-width="0.5"/>
<path d="M585.5 548.5H601.8" stroke="#006600" stroke-width="0.6"/>
<rect x="593.15" y="547.3" width="1" height="1" fill="#111"/>
<path d="M618.95 552.4V552.9M618.95 564.8V571M615.04 552.4H622.86M615.04 571H622.86" stroke="#5a5a5a" stroke-width="0.6" fill="none"/>
<rect x="610.8" y="552.9" width="16.3" height="11.9" fill="#008000" stroke="#004600" stroke-width="0.5"/>
<path d="M610.8 555.5H627.1" stroke="#003300" stroke-width="0.6"/>
<rect x="618.45" y="558.1" width="1" height="1" fill="#111"/>
<path d="M644.25 592.5V594.3M644.25 600.7V603.9M640.34 592.5H648.16M640.34 603.9H648.16" stroke="#5a5a5a" stroke-width="0.6" fill="none"/>
<rect x="636.1" y="594.3" width="16.3" height="6.4" fill="#ff8000" stroke="#8c4600" stroke-width="0.5"/>
<path d="M636.1 597.5H652.4" stroke="#663300" stroke-width="0.6"/>
<rect x="643.75" y="596.8" width="1" height="1" fill="#111"/>
<path d="M669.55 580.2V582.6M669.55 594V594.4M665.64 580.2H673.46M665.64 594.4H673.46" stroke="#5a5a5a" stroke-width="0.6" fill="none"/>
<rect x="661.4" y="582.6" width="16.3" height="11.4" fill="#ff0000" stroke="#8c0000" stroke-width="0.5"/>
<path d="M661.4 589.5H677.7" stroke="#660000" stroke-width="0.6"/>
<rect x="669.05" y="588.1" width="1" height="1" fill="#111"/>
<rect x="422.5" y="537.8" width="104.8" height="74.6" fill="#fff" stroke="#9a9a9a" stroke-width="0.8"/>
<rect x="424.4" y="539.8" width="21.3" height="10" fill="#808080" stroke="#5c5c5c" stroke-width="0.7"/>
<text x="449.1" y="548" font-family="Liberation Sans, Arial, sans-serif" font-size="9.8" fill="#111">neat buffer</text>
<rect x="424.4" y="551.9" width="21.3" height="10" fill="#00ff00" stroke="#5c5c5c" stroke-width="0.7"/>
<text x="449.1" y="560.1" font-family="Liberation Sans, Arial, sans-serif" font-size="9.8" fill="#111">0.25 M MgSO<tspan dy="3" font-size="6.2">4</tspan></text>
<rect x="424.4" y="567.1" width="21.3" height="10" fill="#008080" stroke="#5c5c5c" stroke-width="0.7"/>
<text x="449.1" y="575.3" font-family="Liberation Sans, Arial, sans-serif" font-size="9.8" fill="#111">0.5 M MgSO<tspan dy="3" font-size="6.2">4</tspan></text>
<rect x="424.4" y="582.4" width="21.3" height="10" fill="#ff8000" stroke="#5c5c5c" stroke-width="0.7"/>
<text x="449.1" y="590.6" font-family="Liberation Sans, Arial, sans-serif" font-size="9.8" fill="#111">0.25 M Mg(ClO<tspan dy="3" font-size="6.2">4</tspan><tspan dy="-3">)</tspan><tspan dy="3" font-size="6.2">2</tspan></text>
<rect x="424.4" y="597.6" width="21.3" height="10" fill="#ff0000" stroke="#5c5c5c" stroke-width="0.7"/>
<text x="449.1" y="605.8" font-family="Liberation Sans, Arial, sans-serif" font-size="9.8" fill="#111">0.5 M Mg(ClO<tspan dy="3" font-size="6.2">4</tspan><tspan dy="-3">)</tspan><tspan dy="3" font-size="6.2">2</tspan></text>
<rect x="403.6" y="505.5" width="278.6" height="196.8" fill="none" stroke="#333" stroke-width="1"/>
<path d="M544 505.5V702.3" stroke="#151515" stroke-width="1.25"/>
<text x="412.5" y="516.6" font-family="Liberation Sans, Arial, sans-serif" font-size="10.5" fill="#111">1 bar</text>
<text x="545.7" y="516.8" font-family="Liberation Sans, Arial, sans-serif" font-size="10.5" fill="#111">2000 bar</text>
<text x="370.2" y="512" font-family="Liberation Sans, Arial, sans-serif" font-size="27" fill="#000">f)</text>
<text transform="translate(371 603.8) rotate(-90) scale(0.93 1)" text-anchor="middle" font-family="Liberation Sans, Arial, sans-serif" font-size="16.6" fill="#151515">% of <tspan font-style="italic">k</tspan><tspan dy="5.6" font-size="10.6">eff, 1bar</tspan><tspan dy="-5.6" font-size="16.6">&#8203;</tspan></text>
<path d="M213 731.5h4.3M491.5 731.5h-4.3" stroke="#222" stroke-width="0.9"/>
<path d="M213 757.77h4.3M491.5 757.77h-4.3" stroke="#222" stroke-width="0.9"/>
<path d="M213 784.04h4.3M491.5 784.04h-4.3" stroke="#222" stroke-width="0.9"/>
<path d="M213 810.31h4.3M491.5 810.31h-4.3" stroke="#222" stroke-width="0.9"/>
<path d="M213 836.58h4.3M491.5 836.58h-4.3" stroke="#222" stroke-width="0.9"/>
<path d="M213 862.85h4.3M491.5 862.85h-4.3" stroke="#222" stroke-width="0.9"/>
<path d="M213 889.12h4.3M491.5 889.12h-4.3" stroke="#222" stroke-width="0.9"/>
<path d="M213 915.39h4.3M491.5 915.39h-4.3" stroke="#222" stroke-width="0.9"/>
<path d="M213 744.63h2.6M491.5 744.63h-2.6" stroke="#222" stroke-width="0.9"/>
<path d="M213 770.9h2.6M491.5 770.9h-2.6" stroke="#222" stroke-width="0.9"/>
<path d="M213 797.17h2.6M491.5 797.17h-2.6" stroke="#222" stroke-width="0.9"/>
<path d="M213 823.44h2.6M491.5 823.44h-2.6" stroke="#222" stroke-width="0.9"/>
<path d="M213 849.72h2.6M491.5 849.72h-2.6" stroke="#222" stroke-width="0.9"/>
<path d="M213 875.99h2.6M491.5 875.99h-2.6" stroke="#222" stroke-width="0.9"/>
<path d="M213 902.25h2.6M491.5 902.25h-2.6" stroke="#222" stroke-width="0.9"/>
<text transform="translate(208.1 735.05) scale(0.91 1)" text-anchor="end" font-family="Liberation Sans, Arial, sans-serif" font-size="10.4" fill="#111">-5</text>
<text transform="translate(208.1 761.32) scale(0.91 1)" text-anchor="end" font-family="Liberation Sans, Arial, sans-serif" font-size="10.4" fill="#111">-6</text>
<text transform="translate(208.1 787.59) scale(0.91 1)" text-anchor="end" font-family="Liberation Sans, Arial, sans-serif" font-size="10.4" fill="#111">-7</text>
<text transform="translate(208.1 813.86) scale(0.91 1)" text-anchor="end" font-family="Liberation Sans, Arial, sans-serif" font-size="10.4" fill="#111">-8</text>
<text transform="translate(208.1 840.13) scale(0.91 1)" text-anchor="end" font-family="Liberation Sans, Arial, sans-serif" font-size="10.4" fill="#111">-9</text>
<text transform="translate(208.1 866.4) scale(0.91 1)" text-anchor="end" font-family="Liberation Sans, Arial, sans-serif" font-size="10.4" fill="#111">-10</text>
<text transform="translate(208.1 892.67) scale(0.91 1)" text-anchor="end" font-family="Liberation Sans, Arial, sans-serif" font-size="10.4" fill="#111">-11</text>
<text transform="translate(208.1 918.94) scale(0.91 1)" text-anchor="end" font-family="Liberation Sans, Arial, sans-serif" font-size="10.4" fill="#111">-12</text>
<path d="M240.55 791.6V792.4M240.55 819.3V840.5M231.98 791.6H249.12M231.98 840.5H249.12" stroke="#5a5a5a" stroke-width="0.6" fill="none"/>
<rect x="222.7" y="792.4" width="35.7" height="26.9" fill="#808080" stroke="#464646" stroke-width="0.5"/>
<path d="M222.7 796.5H258.4" stroke="#333333" stroke-width="0.6"/>
<rect x="240.05" y="805.8" width="1" height="1" fill="#111"/>
<path d="M296.3 836.3V841.1M296.3 863.8V874.3M287.73 836.3H304.87M287.73 874.3H304.87" stroke="#5a5a5a" stroke-width="0.6" fill="none"/>
<rect x="278.45" y="841.1" width="35.7" height="22.7" fill="#00ff00" stroke="#008c00" stroke-width="0.5"/>
<path d="M278.45 849.5H314.15" stroke="#006600" stroke-width="0.6"/>
<rect x="295.8" y="851.6" width="1" height="1" fill="#111"/>
<path d="M352.05 855V855.4M352.05 880.9V888.4M343.48 855H360.62M343.48 888.4H360.62" stroke="#5a5a5a" stroke-width="0.6" fill="none"/>
<rect x="334.2" y="855.4" width="35.7" height="25.5" fill="#008080" stroke="#004646" stroke-width="0.5"/>
<path d="M334.2 864.5H369.9" stroke="#003333" stroke-width="0.6"/>
<rect x="351.55" y="867.6" width="1" height="1" fill="#111"/>
<path d="M407.8 873.4V883.9M407.8 897.8V898.3M399.23 873.4H416.37M399.23 898.3H416.37" stroke="#5a5a5a" stroke-width="0.6" fill="none"/>
<rect x="389.95" y="883.9" width="35.7" height="13.9" fill="#ff8000" stroke="#8c4600" stroke-width="0.5"/>
<path d="M389.95 895.5H425.65" stroke="#663300" stroke-width="0.6"/>
<rect x="407.3" y="889.8" width="1" height="1" fill="#111"/>
<path d="M463.55 786.6V795.2M463.55 832.1V836.5M454.98 786.6H472.12M454.98 836.5H472.12" stroke="#5a5a5a" stroke-width="0.6" fill="none"/>
<rect x="445.7" y="795.2" width="35.7" height="36.9" fill="#ff0000" stroke="#8c0000" stroke-width="0.5"/>
<path d="M445.7 815.5H481.4" stroke="#660000" stroke-width="0.6"/>
<rect x="463.05" y="812.7" width="1" height="1" fill="#111"/>
<rect x="302.7" y="745.75" width="104.8" height="74.6" fill="#fff" stroke="#9a9a9a" stroke-width="0.8"/>
<rect x="304.6" y="747.75" width="21.3" height="10" fill="#808080" stroke="#5c5c5c" stroke-width="0.7"/>
<text x="329.3" y="755.95" font-family="Liberation Sans, Arial, sans-serif" font-size="9.8" fill="#111">neat buffer</text>
<rect x="304.6" y="759.85" width="21.3" height="10" fill="#00ff00" stroke="#5c5c5c" stroke-width="0.7"/>
<text x="329.3" y="768.05" font-family="Liberation Sans, Arial, sans-serif" font-size="9.8" fill="#111">0.25 M MgSO<tspan dy="3" font-size="6.2">4</tspan></text>
<rect x="304.6" y="775.05" width="21.3" height="10" fill="#008080" stroke="#5c5c5c" stroke-width="0.7"/>
<text x="329.3" y="783.25" font-family="Liberation Sans, Arial, sans-serif" font-size="9.8" fill="#111">0.5 M MgSO<tspan dy="3" font-size="6.2">4</tspan></text>
<rect x="304.6" y="790.35" width="21.3" height="10" fill="#ff8000" stroke="#5c5c5c" stroke-width="0.7"/>
<text x="329.3" y="798.55" font-family="Liberation Sans, Arial, sans-serif" font-size="9.8" fill="#111">0.25 M Mg(ClO<tspan dy="3" font-size="6.2">4</tspan><tspan dy="-3">)</tspan><tspan dy="3" font-size="6.2">2</tspan></text>
<rect x="304.6" y="805.55" width="21.3" height="10" fill="#ff0000" stroke="#5c5c5c" stroke-width="0.7"/>
<text x="329.3" y="813.75" font-family="Liberation Sans, Arial, sans-serif" font-size="9.8" fill="#111">0.5 M Mg(ClO<tspan dy="3" font-size="6.2">4</tspan><tspan dy="-3">)</tspan><tspan dy="3" font-size="6.2">2</tspan></text>
<rect x="213" y="731.5" width="278.5" height="197" fill="none" stroke="#333" stroke-width="1"/>
<text x="155.8" y="743.6" font-family="Liberation Sans, Arial, sans-serif" font-size="27" fill="#000">g)</text>
<text transform="translate(184.9 830) rotate(-90) scale(1.06 1)" text-anchor="middle" font-family="Liberation Sans, Arial, sans-serif" font-size="14.8" fill="#151515">&#916;<tspan font-style="italic">V</tspan><tspan dy="-7.5" font-size="7">&#8800;</tspan><tspan dy="7.5"> /cm</tspan><tspan dy="-7.1" font-size="10">3</tspan><tspan dy="7.1" font-size="16.6">&#8203;</tspan> mol<tspan dy="-7.1" font-size="10">-1</tspan><tspan dy="7.1" font-size="16.6">&#8203;</tspan></text>
</g>
</svg>
</body></html>
